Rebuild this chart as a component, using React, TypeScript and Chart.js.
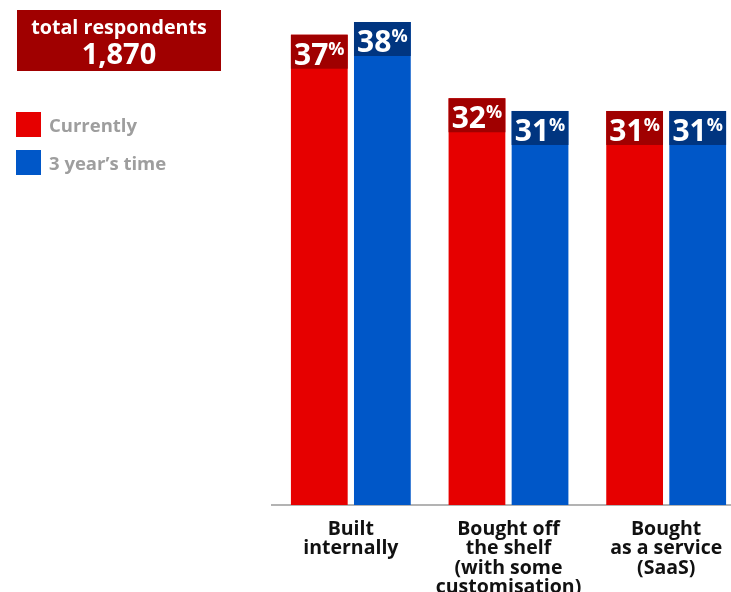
import React, { useEffect, useRef } from "react";
import { Chart, registerables } from "chart.js";

Chart.register(...registerables);

const categories: string[][] = [
  ["Built", "internally"],
  ["Bought off", "the shelf", "(with some", "customisation)"],
  ["Bought", "as a service", "(SaaS)"],
];
const seriesNames = ["Currently", "3 year\u2019s time"];
const currently = [37, 32, 31];
const threeYears = [38, 31, 31];
const totalLabel = "total respondents";
const totalValue = "1,870";

const barColors = ["#e60000", "#0057c8"];
const capColors = ["#a00000", "#003580"];
const FONT = "'Open Sans', sans-serif";

const capPlugin = {
  id: "caps",
  afterDatasetsDraw(chart: any) {
    const ctx = chart.ctx;
    chart.data.datasets.forEach((ds: any, di: number) => {
      const meta = chart.getDatasetMeta(di);
      meta.data.forEach((bar: any, i: number) => {
        const { x, y, width } = bar.getProps(["x", "y", "width"], true);
        const left = x - width / 2;
        ctx.save();
        ctx.fillStyle = capColors[di];
        ctx.fillRect(left, y, width, 34);
        const num = String(ds.data[i]);
        const big = `700 30px ${FONT}`;
        const small = `700 18px ${FONT}`;
        ctx.font = big;
        const nw = ctx.measureText(num).width;
        ctx.font = small;
        const pw = ctx.measureText("%").width;
        const start = x - (nw + pw) / 2;
        ctx.fillStyle = "#ffffff";
        ctx.textAlign = "left";
        ctx.textBaseline = "alphabetic";
        ctx.font = big;
        ctx.fillText(num, start, y + 30);
        ctx.font = small;
        ctx.fillText("%", start + nw, y + 20);
        ctx.restore();
      });
    });
  },
};

export default function App() {
  const ref = useRef<HTMLCanvasElement | null>(null);

  useEffect(() => {
    if (!ref.current) return;
    const chart = new Chart(ref.current, {
      type: "bar",
      data: {
        labels: categories as any,
        datasets: [
          {
            label: seriesNames[0],
            data: currently,
            backgroundColor: barColors[0],
            borderWidth: 0,
            barPercentage: 0.9,
            categoryPercentage: 0.8,
          },
          {
            label: seriesNames[1],
            data: threeYears,
            backgroundColor: barColors[1],
            borderWidth: 0,
            barPercentage: 0.9,
            categoryPercentage: 0.8,
          },
        ],
      },
      options: {
        responsive: false,
        animation: false,
        devicePixelRatio: 1,
        layout: { padding: { left: 272, right: 0, top: 22, bottom: 0 } },
        plugins: {
          legend: { display: false },
          tooltip: { enabled: false },
        },
        scales: {
          y: { display: false, min: 0, max: 38 },
          x: {
            afterFit: (scale: any) => {
              scale.height = 87;
            },
            grid: { display: false, drawTicks: false },
            border: { display: true, color: "#b3b3b3", width: 2 },
            ticks: {
              padding: 15,
              color: "#111111",
              maxRotation: 0,
              autoSkip: false,
              font: { family: FONT, size: 19.5, weight: "bold", lineHeight: 19.2 / 19.5 },
            },
          },
        },
      },
      plugins: [capPlugin],
    });
    return () => chart.destroy();
  }, []);

  return (
    <div
      style={{
        position: "absolute",
        left: 0,
        top: 0,
        width: 731,
        height: 592,
        overflow: "hidden",
        fontFamily: FONT,
      }}
    >
      <canvas ref={ref} width={745} height={592} style={{ position: "absolute", left: 0, top: 0 }} />
      <div
        style={{
          position: "absolute",
          left: 17,
          top: 10,
          width: 204,
          height: 61,
          background: "#a00000",
          color: "#fff",
          fontWeight: 700,
          textAlign: "center",
        }}
      >
        <div style={{ fontSize: 19.7, lineHeight: "22px", marginTop: 6 }}>{totalLabel}</div>
        <div style={{ fontSize: 29, lineHeight: "29px" }}>{totalValue}</div>
      </div>
      {seriesNames.map((name, i) => (
        <div
          key={name}
          style={{
            position: "absolute",
            left: 16,
            top: 112 + i * 38,
            height: 25,
            display: "flex",
            alignItems: "center",
            whiteSpace: "nowrap",
          }}
        >
          <div style={{ width: 25, height: 25, background: barColors[i], marginRight: 8 }} />
          <span style={{ fontSize: 18.5, fontWeight: 700, color: "#9e9e9e" }}>{name}</span>
        </div>
      ))}
    </div>
  );
}
